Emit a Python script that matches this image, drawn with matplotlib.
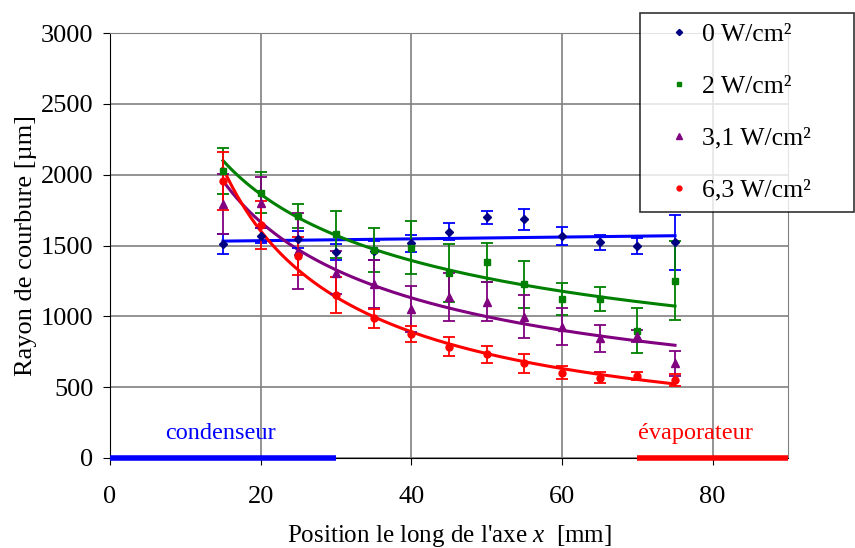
import numpy as np
import matplotlib
matplotlib.use("Agg")
import matplotlib.pyplot as plt
from matplotlib.lines import Line2D

plt.rcParams["font.family"] = ["Liberation Serif", "DejaVu Serif"]
plt.rcParams["mathtext.fontset"] = "custom"
plt.rcParams["mathtext.rm"] = "Liberation Serif"
plt.rcParams["mathtext.it"] = "Liberation Serif:italic"

# Position le long de l'axe [mm]
x_pos = [15, 20, 25, 30, 35, 40, 45, 50, 55, 60, 65, 70, 75]

# Rayon de courbure [µm] et incertitudes, par flux de chaleur
r_0 = [1511, 1569, 1544, 1456, 1464, 1515, 1598, 1699, 1685, 1569, 1522, 1496, 1522]
e_0 = [71, 54, 59, 55, 67, 59, 59, 47, 76, 64, 53, 59, 192]

r_2 = [2028, 1873, 1708, 1579, 1468, 1485, 1304, 1381, 1226, 1122, 1122, 899, 1252]
e_2 = [161, 147, 82, 167, 155, 186, 205, 136, 165, 110, 84, 159, 278]

r_31 = [1791, 1802, 1461, 1308, 1228, 1052, 1134, 1103, 998, 927, 845, 861, 668]
e_31 = [212, 179, 265, 150, 169, 165, 169, 136, 153, 129, 95, 40, 87]

r_63 = [1958, 1645, 1426, 1151, 986, 875, 786, 732, 668, 602, 567, 581, 551]
e_63 = [205, 167, 136, 124, 67, 56, 67, 59, 69, 47, 41, 27, 41]

labels = ["0 W/cm²", "2 W/cm²", "3,1 W/cm²", "6,3 W/cm²"]

# zones condenseur / evaporateur [mm]
cond_zone = [0, 30]
evap_zone = [70, 90]


def power_fit(x, y):
    """Power-law trendline y = a*x^b (least squares in log-log)."""
    b, ln_a = np.polyfit(np.log(x), np.log(y), 1)
    return lambda t: np.exp(ln_a) * t ** b


fig = plt.figure(figsize=(8.55, 5.48), dpi=100)
ax = fig.add_axes([110 / 855, 1 - 458 / 548, 678 / 855, 425 / 548])

series = [
    (r_0, e_0, "D", "#000080", "#0000FF", 4.5),
    (r_2, e_2, "s", "#008000", "#008000", 5),
    (r_31, e_31, "^", "#800080", "#800080", 6),
    (r_63, e_63, "o", "#FF0000", "#FF0000", 5),
]

xs = np.array(x_pos, dtype=float)
t = np.linspace(xs.min(), xs.max(), 200)
handles = []
for i, (r, e, mk, mcol, lcol, ms) in enumerate(series):
    ax.errorbar(xs, r, yerr=e, fmt=mk, color=mcol, ecolor=lcol, ms=ms,
                elinewidth=1.3, capsize=4, capthick=1.3, zorder=3)
    if i == 0:
        k, c = np.polyfit(xs, r, 1)
        ax.plot(t, k * t + c, color=lcol, lw=2.2, zorder=2)
    else:
        f = power_fit(xs, np.array(r, dtype=float))
        ax.plot(t, f(t), color=lcol, lw=2.2, zorder=2)
    handles.append(Line2D([], [], ls="none", marker=mk, color=mcol, ms=ms * 0.7))

# zones
ax.plot(cond_zone, [0, 0], color="#0000FF", lw=4, solid_capstyle="butt", zorder=4, clip_on=False)
ax.plot(evap_zone, [0, 0], color="#FF0000", lw=4, solid_capstyle="butt", zorder=4, clip_on=False)
ax.text(14.7, 170, "condenseur", color="#0000FF", fontsize=17.5, ha="center", va="center")
ax.text(77.7, 170, "évaporateur", color="#FF0000", fontsize=17.5, ha="center", va="center")

ax.set_xlim(0, 90)
ax.set_ylim(0, 3000)
ax.set_xticks([0, 20, 40, 60, 80])
ax.set_yticks(np.arange(0, 3001, 500))
ax.grid(True, color="#808080", lw=1.2)
ax.set_axisbelow(True)
for s in ["top", "right"]:
    ax.spines[s].set_color("#808080")
for s in ["left", "bottom"]:
    ax.spines[s].set_color("black")
ax.tick_params(labelsize=19, length=5, direction="out")
ax.tick_params(axis="x", pad=15)
ax.tick_params(axis="y", pad=7)

ax.set_xlabel("Position le long de l'axe $x$  [mm]", fontsize=18, labelpad=11)
ax.set_ylabel("Rayon de courbure [µm]", fontsize=19, labelpad=3)

leg = fig.legend(handles, labels, loc="upper left",
                 bbox_to_anchor=(640 / 855, 1 - 212 / 548, 214 / 855, 199 / 548),
                 mode="expand", borderaxespad=0,
                 fontsize=18.5, frameon=True, fancybox=False, labelspacing=1.12,
                 handletextpad=-0.2, borderpad=0.4, handlelength=2.2)
leg.get_frame().set_edgecolor("black")
leg.get_frame().set_linewidth(1.2)

fig.savefig("out.png", dpi=100)
